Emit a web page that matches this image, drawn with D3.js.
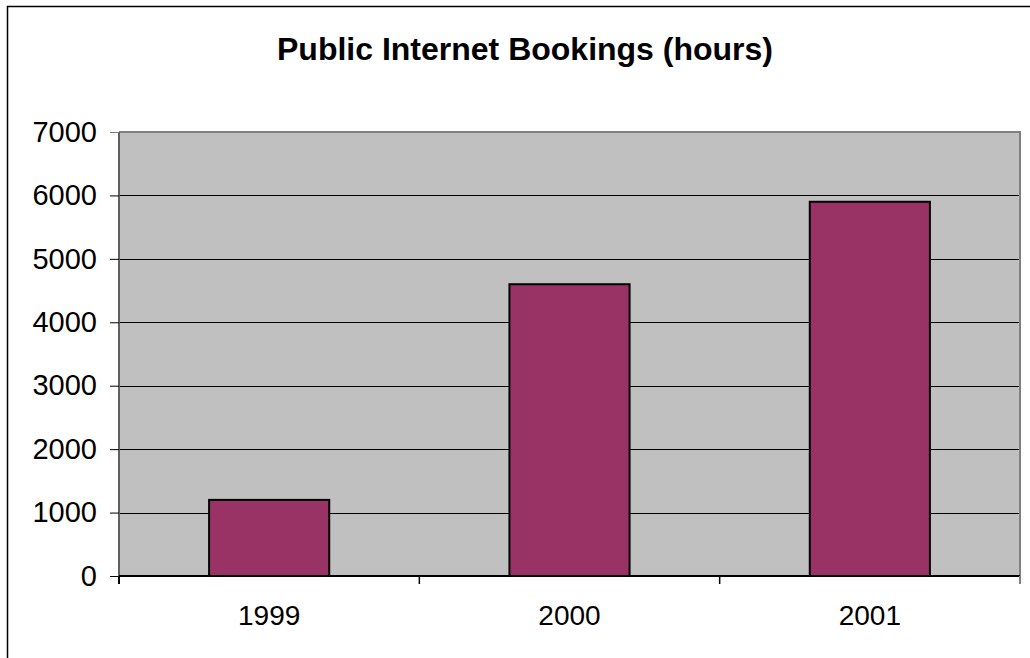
<!DOCTYPE html>
<html>
<head>
<meta charset="utf-8">
<script src="https://cdn.jsdelivr.net/npm/d3@7"></script>
<style>
  html, body { margin: 0; padding: 0; background: #fff; overflow: hidden; }
  svg { display: block; }
</style>
</head>
<body>
<svg id="chart" width="1030" height="658"></svg>
<script>
// Yearly public internet booking hours
const years = ["1999", "2000", "2001"];
const hours = [1200, 4600, 5900];
const yTicks = [0, 1000, 2000, 3000, 4000, 5000, 6000, 7000];
const chartTitle = "Public Internet Bookings (hours)";

const svg = d3.select("#chart");
const W = 1030, H = 658;
const plot = { left: 119, right: 1020, top: 132, bottom: 576 };

// Outer chart frame (runs off the right and bottom edges)
svg.append("rect")
  .attr("x", 7.5).attr("y", 6.5)
  .attr("width", W + 20).attr("height", H + 20)
  .attr("fill", "#fff").attr("stroke", "#000").attr("stroke-width", 1.5);

const x = d3.scaleBand()
  .domain(years)
  .range([plot.left, plot.right])
  .paddingInner(0.6)
  .paddingOuter(0.3);

const y = d3.scaleLinear()
  .domain([0, 7000])
  .range([plot.bottom, plot.top]);

// Plot area background
svg.append("rect")
  .attr("x", plot.left).attr("y", plot.top)
  .attr("width", plot.right - plot.left)
  .attr("height", plot.bottom - plot.top)
  .attr("fill", "#c0c0c0");

// Horizontal gridlines
svg.append("g")
  .selectAll("line")
  .data(yTicks.filter(v => v > 0 && v < 7000))
  .join("line")
  .attr("x1", plot.left).attr("x2", plot.right)
  .attr("y1", d => Math.round(y(d)) + 0.5)
  .attr("y2", d => Math.round(y(d)) + 0.5)
  .attr("stroke", "#000").attr("stroke-width", 1);

// Top and right plot borders
svg.append("path")
  .attr("d", `M${plot.left},${plot.top} H${plot.right} V${plot.bottom}`)
  .attr("fill", "none").attr("stroke", "#808080").attr("stroke-width", 2);

// Bars
svg.append("g")
  .selectAll("rect")
  .data(years.map((yr, i) => ({ yr, v: hours[i] })))
  .join("rect")
  .attr("x", d => x(d.yr))
  .attr("y", d => y(d.v))
  .attr("width", x.bandwidth())
  .attr("height", d => y(0) - y(d.v))
  .attr("fill", "#993366")
  .attr("stroke", "#000")
  .attr("stroke-width", 2);

// Y axis
const yAxis = svg.append("g")
  .attr("transform", `translate(${plot.left},0)`)
  .call(d3.axisLeft(y).tickValues(yTicks).tickFormat(d3.format("d")).tickSize(9).tickPadding(13));
yAxis.select(".domain").attr("stroke", "#606060").attr("stroke-width", 2)
  .attr("d", `M0,${plot.top}V${plot.bottom + 8}`);
yAxis.selectAll(".tick line").attr("stroke", "#000");
yAxis.selectAll(".tick text")
  .attr("font-family", "Liberation Sans, Arial, sans-serif")
  .attr("font-size", 29).attr("fill", "#000");
yAxis.select(".tick:last-of-type line").attr("stroke", "#808080");

// X axis: ticks sit on category boundaries
const bounds = d3.range(years.length + 1).map(i => plot.left + i * x.step());
const xAxis = svg.append("g");
xAxis.append("line")
  .attr("x1", plot.left).attr("x2", plot.right)
  .attr("y1", plot.bottom).attr("y2", plot.bottom)
  .attr("stroke", "#000").attr("stroke-width", 2);
xAxis.selectAll("line.tk")
  .data(bounds)
  .join("line")
  .attr("class", "tk")
  .attr("x1", d => d).attr("x2", d => d)
  .attr("y1", plot.bottom).attr("y2", plot.bottom + 8)
  .attr("stroke", (d, i) => i === years.length ? "#808080" : "#000")
  .attr("stroke-width", (d, i) => i === 0 || i === years.length ? 2 : 1.5);
xAxis.selectAll("text")
  .data(years)
  .join("text")
  .attr("x", d => x(d) + x.bandwidth() / 2)
  .attr("y", 625)
  .attr("text-anchor", "middle")
  .attr("font-family", "Liberation Sans, Arial, sans-serif")
  .attr("font-size", 28)
  .attr("fill", "#000")
  .text(d => d);

// Title
svg.append("text")
  .attr("x", 525).attr("y", 60)
  .attr("text-anchor", "middle")
  .attr("font-family", "Liberation Sans, Arial, sans-serif")
  .attr("font-weight", "bold")
  .attr("font-size", 32)
  .attr("fill", "#000")
  .text(chartTitle);
</script>
</body>
</html>
